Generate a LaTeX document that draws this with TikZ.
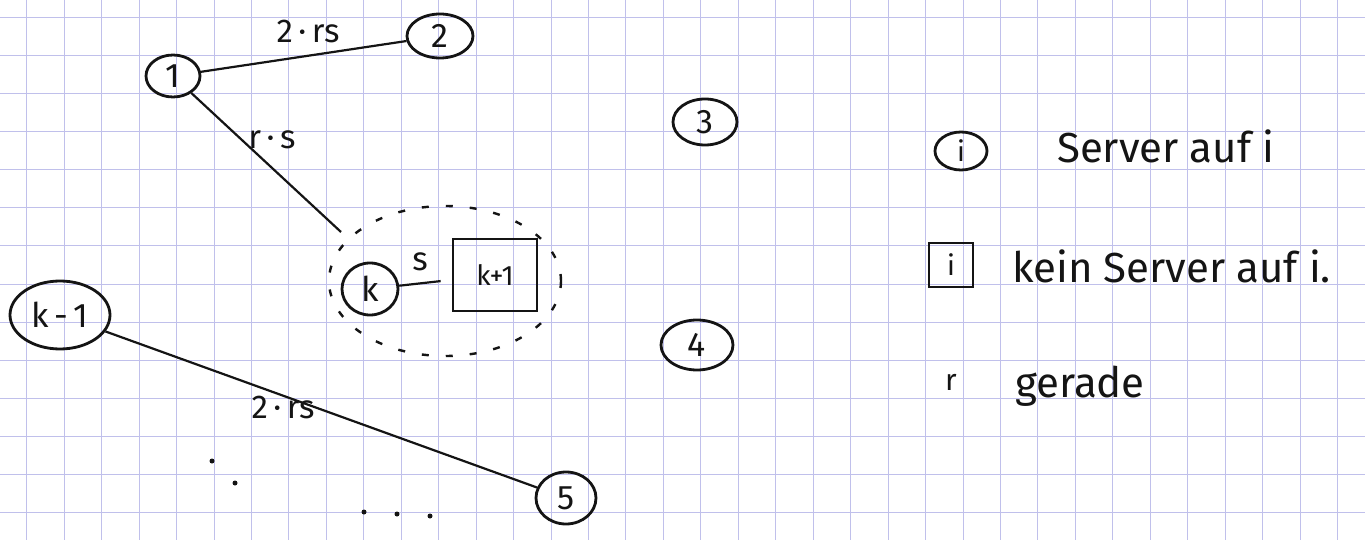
\documentclass[tikz,border=0pt]{standalone}
\usepackage{fontspec}
\setmainfont{Fira Sans}
\usetikzlibrary{shapes.geometric}
\definecolor{gridc}{RGB}{192,192,235}
\definecolor{ink}{RGB}{20,20,20}
\begin{document}
\begin{tikzpicture}[x=1pt,y=-1pt,
  srv/.style={ellipse, draw=ink, line width=2.8pt, inner sep=0pt, font=\fontsize{34}{34}\selectfont, text=ink},
  nosrv/.style={rectangle, draw=ink, line width=2.8pt, inner sep=0pt, text=ink},
  conn/.style={draw=ink, line width=2.2pt},
  elabel/.style={font=\fontsize{33}{33}\selectfont, text=ink, inner sep=0pt},
  legtext/.style={font=\fontsize{42}{42}\selectfont, text=ink, inner sep=0pt, anchor=base west},
  grp/.style={ellipse, draw=ink, line width=2.4pt, dash pattern=on 7pt off 17pt, inner sep=0pt},
  dotm/.style={circle, fill=ink, inner sep=0pt, minimum size=5pt}
]
\useasboundingbox (0,0) rectangle (1365,540);
\fill[white] (0,0) rectangle (1365,540);
% grid paper
\foreach \i in {0,...,35} \draw[gridc, line width=0.9pt] ({26.7+37.45*\i},0) -- ({26.7+37.45*\i},540);
\foreach \j in {0,...,13} \draw[gridc, line width=0.9pt] (0,{17.3+38.1*\j}) -- (1365,{17.3+38.1*\j});

% nodes
\node[srv, minimum width=54pt, minimum height=42pt] (n1) at (173,76) {1};
\node[srv, minimum width=66pt, minimum height=44pt] (n2) at (440,36) {2};
\node[srv, minimum width=64pt, minimum height=46pt] (n3) at (705,122) {3};
\node[srv, minimum width=72pt, minimum height=50pt] (n4) at (697,345) {4};
\node[srv, minimum width=56pt, minimum height=52pt] (nk) at (370,289) {k};
\node[nosrv, minimum width=84pt, minimum height=72pt, font=\fontsize{28}{28}\selectfont] (nk1) at (495,275) {k+1};
\node[srv, minimum width=100pt, minimum height=68pt] (nkm) at (60,315) {k\,-\,1};
\node[srv, minimum width=60pt, minimum height=52pt] (n5) at (566,498) {5};
\node[grp, minimum width=232pt, minimum height=150pt] (grp) at (445,281) {};

% connectors
\draw[conn] (n1) -- (n2);
\node[elabel] (l12) at (308,31) {2\,·\,rs};
\coordinate (kend) at (341,232);
\draw[conn] (n1) -- (kend);
\node[elabel] (l1k) at (272,140) {r\,·\,s};
\draw[conn, shorten >=11pt] (nk) -- (nk1);
\node[elabel] (lkk) at (420,262) {s};
\draw[conn] (nkm) -- (n5);
\node[elabel] (lk5) at (283,407) {2\,·\,rs};

% dots
\node[dotm] (d1) at (212,461) {};
\node[dotm] (d2) at (235,483) {};
\node[dotm] (d3) at (364,512) {};
\node[dotm] (d4) at (397,514) {};
\node[dotm] (d5) at (430,516) {};

% legend
\node[srv, minimum width=52pt, minimum height=38pt, font=\fontsize{28}{28}\selectfont] (li) at (961,151) {i};
\node[legtext] (t1) at (1057,163) {Server auf i};
\node[nosrv, minimum width=44pt, minimum height=44pt, font=\fontsize{28}{28}\selectfont] (lb) at (951,265) {i};
\node[legtext] (t2) at (1012,282) {kein Server auf i.};
\node[legtext, font=\fontsize{30}{30}\selectfont] (lr) at (945,390) {r};
\node[legtext] (t3) at (1015,397) {gerade};
\end{tikzpicture}
\end{document}
